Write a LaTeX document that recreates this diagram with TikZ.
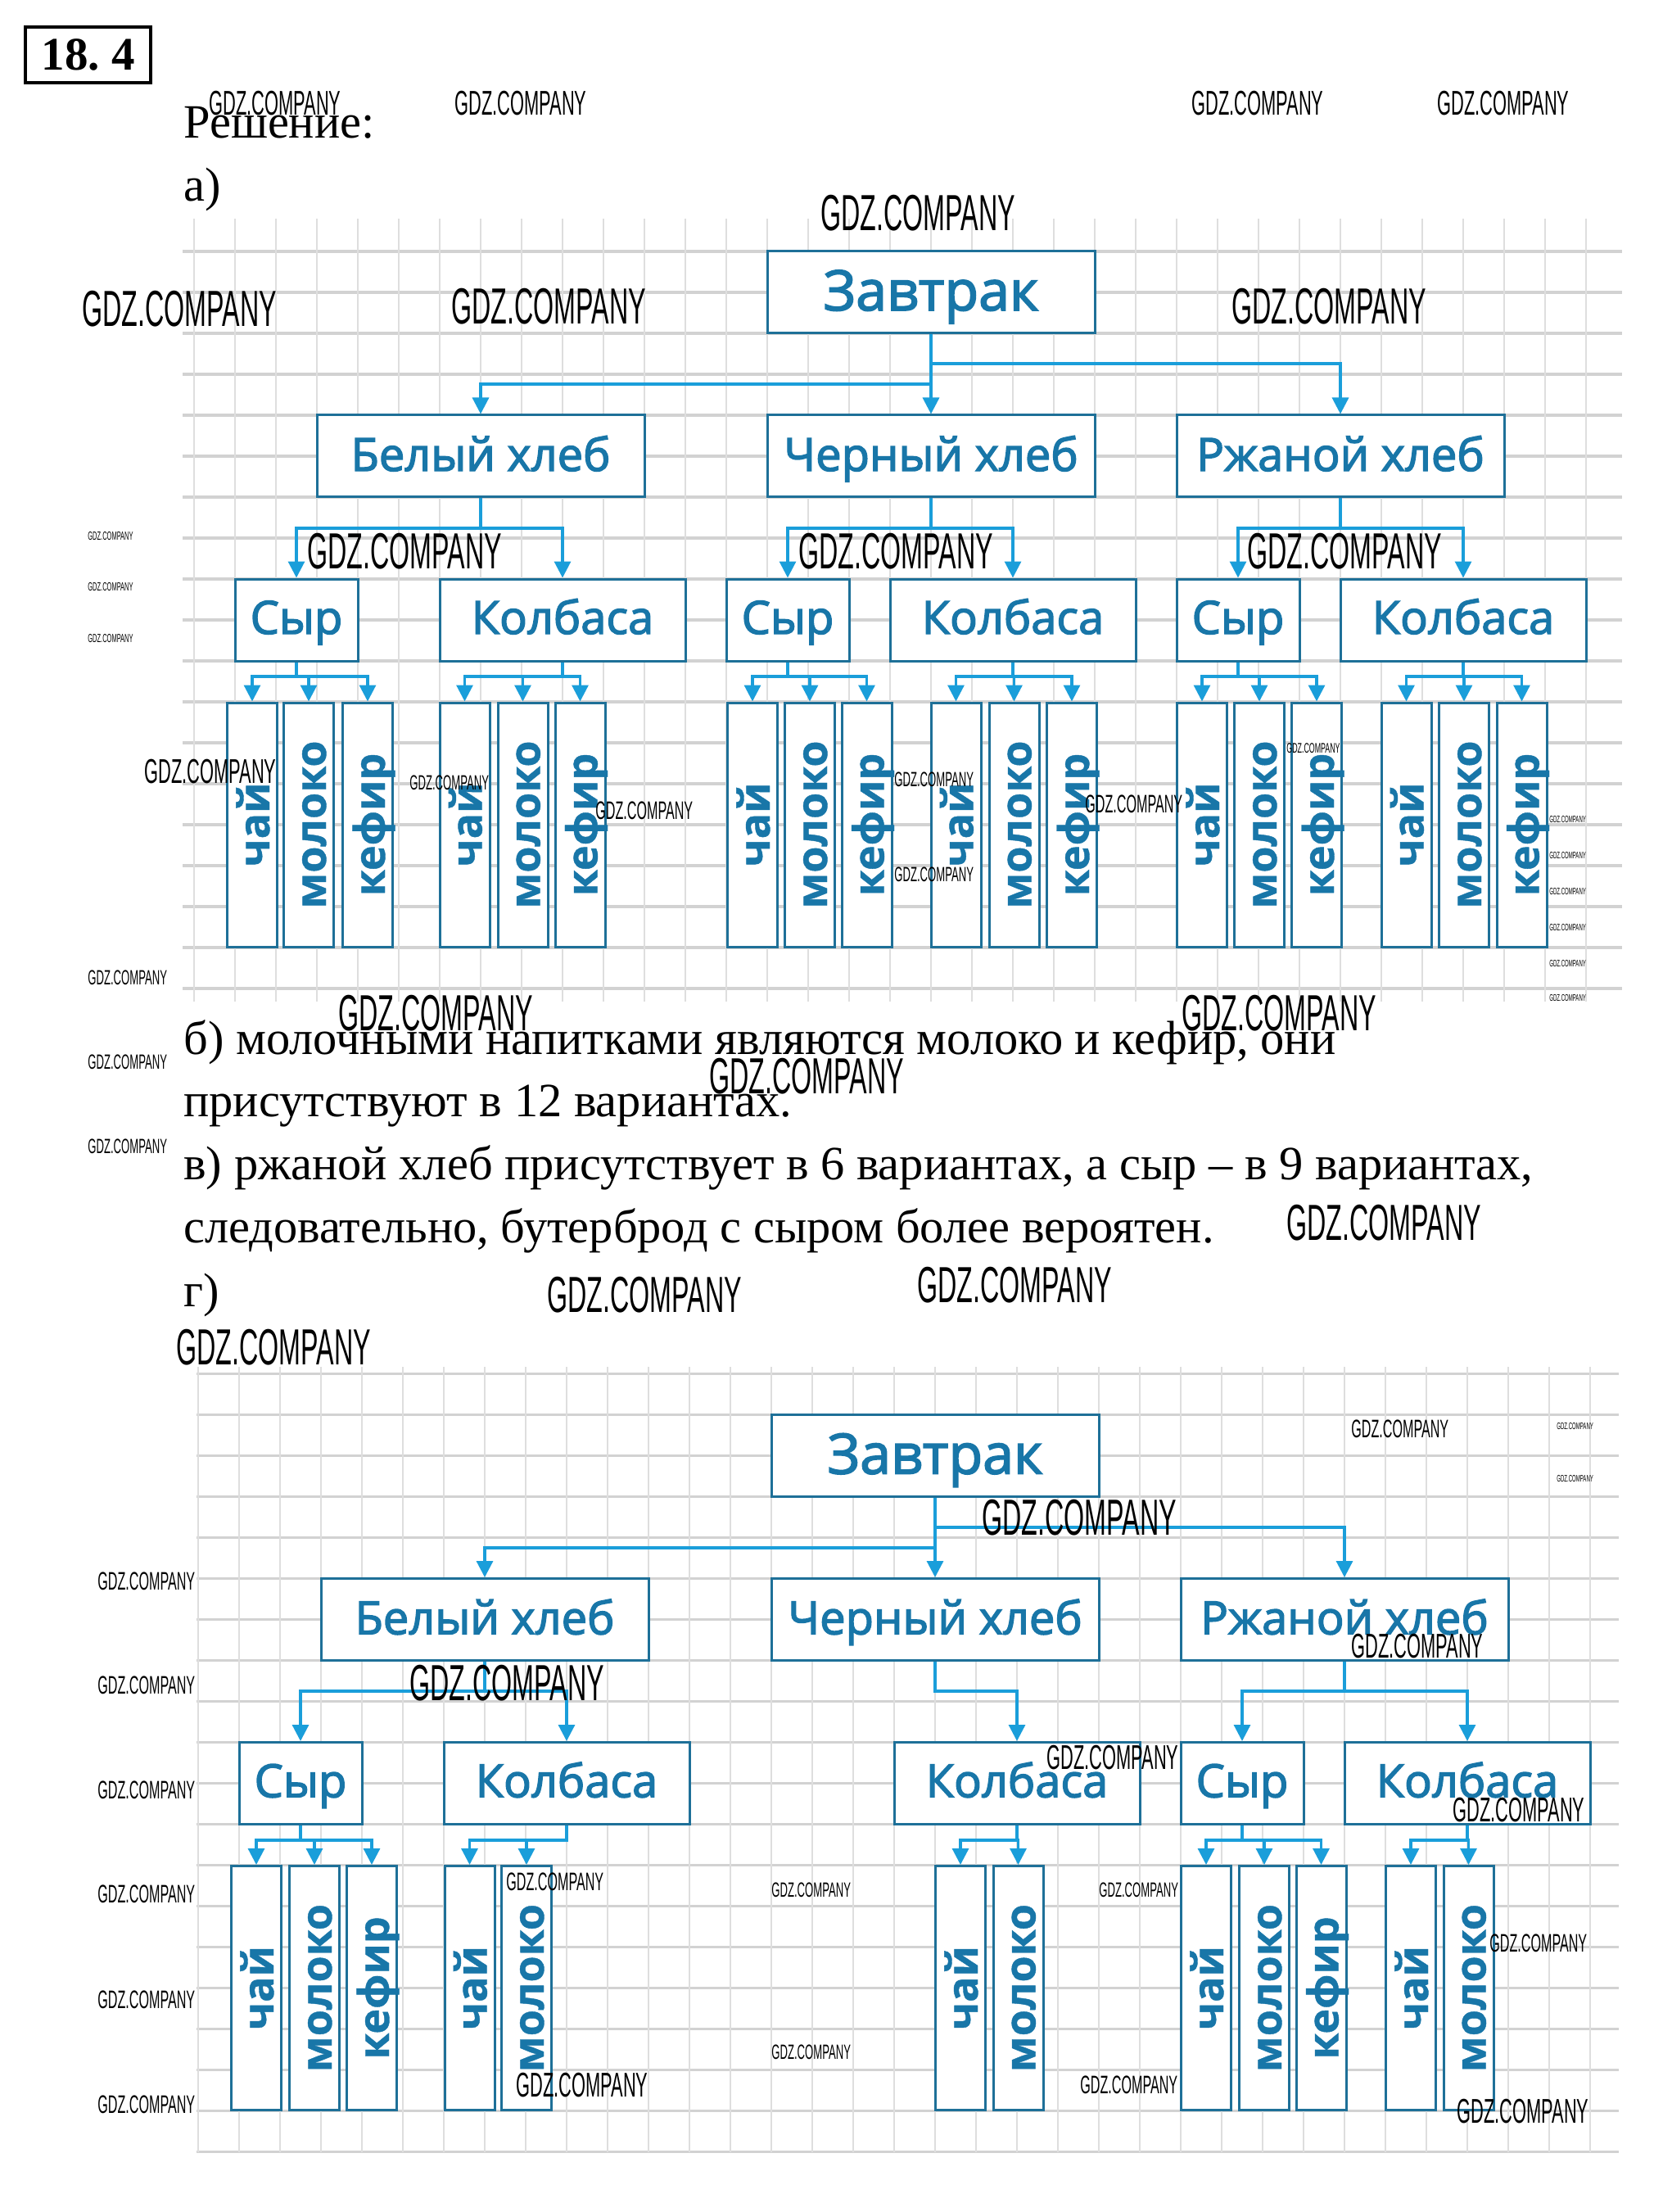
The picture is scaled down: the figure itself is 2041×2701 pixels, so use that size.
\documentclass[tikz,border=0pt]{standalone}
\usepackage{fontspec}
\setmainfont{Liberation Serif}
\newfontfamily\diag[FakeBold=2.5]{Open Sans}
\newfontfamily\diagbf{Open Sans Bold}[FakeBold=0.8]
\newfontfamily\wmf[FakeStretch=0.52]{Liberation Sans}
\usetikzlibrary{arrows.meta}
\definecolor{boxc}{RGB}{30,112,152}
\definecolor{txtc}{RGB}{24,118,168}
\definecolor{linec}{RGB}{26,158,218}
\definecolor{gridh}{RGB}{210,210,210}
\definecolor{gridv}{RGB}{222,222,222}
\tikzset{
 bbox/.style={draw=boxc, line width=1.5pt, fill=white, text=txtc, inner sep=0pt,
   text height=17pt, text depth=0pt, font=\diag\fontsize{28}{28}\selectfont},
 boxL/.style={bbox, minimum width=200pt, minimum height=50pt, text height=22pt,
   font=\diag\fontsize{34}{34}\selectfont},
 boxM/.style={bbox, minimum width=200pt, minimum height=50pt, text height=18pt},
 boxS/.style={bbox, minimum width=75pt, minimum height=50pt},
 boxW/.style={bbox, minimum width=150pt, minimum height=50pt},
 leaf/.style={bbox, rotate=90, minimum width=149pt, minimum height=30.5pt,
   text height=21pt, text depth=0pt, font=\diagbf\fontsize{26}{26}\selectfont},
 conn/.style={draw=linec, line width=1.6pt},
 arr/.style={conn, -{Triangle[width=10pt,length=10pt]}},
 body/.style={anchor=base west, inner sep=0pt, font=\fontsize{29.2}{34}\selectfont},
 wm/.style={anchor=west, inner sep=0pt, text=black, font=\wmf\fontsize{#1}{#1}\selectfont},
 gridH/.style={draw=gridh, line width=1.8pt},
 gridV/.style={draw=gridv, line width=1.3pt},
}
\newcommand\tolf[3]{\draw[arr] (#1.south) |- (#2.east |- #3) -- (#2.east);}
\newcommand\tobx[3]{\draw[arr] (#1.south) |- (#2.north |- #3) -- (#2.north);}
\begin{document}
\begin{tikzpicture}[x=0.5pt,y=-0.5pt]
\useasboundingbox (0,0) rectangle (2041,2701);
\fill[white] (0,0) rectangle (2041,2701);
% grids
\foreach \k in {0,...,18} \draw[gridH] (223,{307+50*\k}) -- (1981,{307+50*\k});
\foreach \k in {0,...,34} \draw[gridV] ({237+50*\k},267) -- ({237+50*\k},1223);
\foreach \k in {0,...,19} \draw[gridH] (240,{1677.5+50*\k}) -- (1977,{1677.5+50*\k});
\foreach \k in {0,...,34} \draw[gridV] ({242+50*\k},1669) -- ({242+50*\k},2628);
% title and text
\node[draw, line width=2pt, minimum width=76.5pt, minimum height=34pt, inner sep=0pt,
  font=\bfseries\fontsize{28.5}{30}\selectfont] (num) at (107.5,67) {18.\hspace{0.25em}4};
\node[body] (resh) at (224,169) {Решение:};
\node[body] (pa) at (224,246) {а)};
\node[body] (pb1) at (224,1287) {б) молочными напитками являются молоко и кефир, они};
\node[body] (pb2) at (224,1363) {присутствуют в 12 вариантах.};
\node[body] (pv1) at (224,1440) {в) ржаной хлеб присутствует в 6 вариантах, а сыр – в 9 вариантах,};
\node[body] (pv2) at (224,1517) {следовательно, бутерброд с сыром более вероятен.};
\node[body] (pg) at (224,1595) {г)};
% ---------- part a ----------
\node[boxL] (zavA) at (1137,357) {Завтрак};
\node[boxM] (belA) at (587,557) {Белый хлеб};
\node[boxM] (cherA) at (1137,557) {Черный хлеб};
\node[boxM] (rzhA) at (1637,557) {Ржаной хлеб};
\node[boxS] (syrA1) at (362,757) {Сыр};
\node[boxW] (kolA1) at (687,757) {Колбаса};
\node[boxS] (syrA2) at (962,757) {Сыр};
\node[boxW] (kolA2) at (1237,757) {Колбаса};
\node[boxS] (syrA3) at (1512,757) {Сыр};
\node[boxW] (kolA3) at (1787,757) {Колбаса};
\node[leaf] (lA1a) at (308,1007) {чай};
\node[leaf] (lA1b) at (377,1007) {молоко};
\node[leaf] (lA1c) at (449,1007) {кефир};
\node[leaf] (lA2a) at (567.5,1007) {чай};
\node[leaf] (lA2b) at (638.5,1007) {молоко};
\node[leaf] (lA2c) at (708.5,1007) {кефир};
\node[leaf] (lA3a) at (919,1007) {чай};
\node[leaf] (lA3b) at (989,1007) {молоко};
\node[leaf] (lA3c) at (1058.5,1007) {кефир};
\node[leaf] (lA4a) at (1167.5,1007) {чай};
\node[leaf] (lA4b) at (1238.5,1007) {молоко};
\node[leaf] (lA4c) at (1309,1007) {кефир};
\node[leaf] (lA5a) at (1468,1007) {чай};
\node[leaf] (lA5b) at (1538,1007) {молоко};
\node[leaf] (lA5c) at (1608,1007) {кефир};
\node[leaf] (lA6a) at (1717.5,1007) {чай};
\node[leaf] (lA6b) at (1788,1007) {молоко};
\node[leaf] (lA6c) at (1858.5,1007) {кефир};
\coordinate (rA1l) at (0,469);
\coordinate (rA1r) at (0,444);
\coordinate (rA2) at (0,645);
\coordinate (rA3) at (0,826);
\draw[arr] (zavA.south) -- (cherA.north);
\tobx{zavA}{belA}{rA1l}
\tobx{zavA}{rzhA}{rA1r}
\tobx{belA}{syrA1}{rA2}
\tobx{belA}{kolA1}{rA2}
\tobx{cherA}{syrA2}{rA2}
\tobx{cherA}{kolA2}{rA2}
\tobx{rzhA}{syrA3}{rA2}
\tobx{rzhA}{kolA3}{rA2}
\tolf{syrA1}{lA1a}{rA3}\tolf{syrA1}{lA1b}{rA3}\tolf{syrA1}{lA1c}{rA3}
\tolf{kolA1}{lA2a}{rA3}\tolf{kolA1}{lA2b}{rA3}\tolf{kolA1}{lA2c}{rA3}
\tolf{syrA2}{lA3a}{rA3}\tolf{syrA2}{lA3b}{rA3}\tolf{syrA2}{lA3c}{rA3}
\tolf{kolA2}{lA4a}{rA3}\tolf{kolA2}{lA4b}{rA3}\tolf{kolA2}{lA4c}{rA3}
\tolf{syrA3}{lA5a}{rA3}\tolf{syrA3}{lA5b}{rA3}\tolf{syrA3}{lA5c}{rA3}
\tolf{kolA3}{lA6a}{rA3}\tolf{kolA3}{lA6b}{rA3}\tolf{kolA3}{lA6c}{rA3}
% ---------- part g ----------
\node[boxL] (zavG) at (1142,1777.5) {Завтрак};
\node[boxM] (belG) at (592,1977.5) {Белый хлеб};
\node[boxM] (cherG) at (1142,1977.5) {Черный хлеб};
\node[boxM] (rzhG) at (1642,1977.5) {Ржаной хлеб};
\node[boxS] (syrG1) at (367,2177.5) {Сыр};
\node[boxW] (kolG1) at (692,2177.5) {Колбаса};
\node[boxW] (kolG2) at (1242,2177.5) {Колбаса};
\node[boxS] (syrG3) at (1517,2177.5) {Сыр};
\node[boxW] (kolG3) at (1792,2177.5) {Колбаса};
\node[leaf] (lG1a) at (313,2427.5) {чай};
\node[leaf] (lG1b) at (384,2427.5) {молоко};
\node[leaf] (lG1c) at (454,2427.5) {кефир};
\node[leaf] (lG2a) at (573.5,2427.5) {чай};
\node[leaf] (lG2b) at (643,2427.5) {молоко};
\node[leaf] (lG4a) at (1173,2427.5) {чай};
\node[leaf] (lG4b) at (1243.5,2427.5) {молоко};
\node[leaf] (lG5a) at (1473,2427.5) {чай};
\node[leaf] (lG5b) at (1544,2427.5) {молоко};
\node[leaf] (lG5c) at (1613.5,2427.5) {кефир};
\node[leaf] (lG6a) at (1723,2427.5) {чай};
\node[leaf] (lG6b) at (1793.5,2427.5) {молоко};
\coordinate (rG1l) at (0,1890);
\coordinate (rG1r) at (0,1865);
\coordinate (rG2) at (0,2065);
\coordinate (rG3) at (0,2247);
\draw[arr] (zavG.south) -- (cherG.north);
\tobx{zavG}{belG}{rG1l}
\tobx{zavG}{rzhG}{rG1r}
\tobx{belG}{syrG1}{rG2}
\tobx{belG}{kolG1}{rG2}
\tobx{cherG}{kolG2}{rG2}
\tobx{rzhG}{syrG3}{rG2}
\tobx{rzhG}{kolG3}{rG2}
\tolf{syrG1}{lG1a}{rG3}\tolf{syrG1}{lG1b}{rG3}\tolf{syrG1}{lG1c}{rG3}
\tolf{kolG1}{lG2a}{rG3}\tolf{kolG1}{lG2b}{rG3}
\tolf{kolG2}{lG4a}{rG3}\tolf{kolG2}{lG4b}{rG3}
\tolf{syrG3}{lG5a}{rG3}\tolf{syrG3}{lG5b}{rG3}\tolf{syrG3}{lG5c}{rG3}
\tolf{kolG3}{lG6a}{rG3}\tolf{kolG3}{lG6b}{rG3}
% ---------- watermarks ----------
\foreach \x/\y/\s [count=\i] in {
 1002/260/31, 100/377/31, 551/374/31, 1504/374/31, 375/673/31, 975/673/31, 1523/673/31,
 413/1237/31, 1443/1237/31, 866/1314/31, 1571/1493/31, 668/1581/31, 1120/1569/31,
 215/1645/31, 1199/1853/31, 500/2055/31,
 255/126/21, 555/126/21, 1455/126/21, 1755/126/21, 176/942/21, 1650/2010/21,
 1278/2146/21, 1774/2210/21, 630/2546/21, 1779/2578/21,
 727/990/15.5, 1325/982/15.5, 618/2298/15.5, 1819/2373/15.5, 1650/1745/15.5,
 119/1931/15.5, 119/2058/15.5, 119/2186/15.5, 119/2313/15.5, 119/2442/15.5, 119/2570/15.5,
 1319/2546/15.5,
 500/956/12.6, 1092/952/12.6, 1092/1068/12.6, 107/1194/12.6, 107/1297/12.6, 107/1400/12.6,
 942/2308/12.6, 942/2506/12.6, 1342/2308/12.6,
 107/655/7.2, 107/717/7.2, 107/780/7.2, 1571/914/8.5,
 1892/1000/5.8, 1892/1044/5.8, 1892/1088/5.8, 1892/1132/5.8, 1892/1176/5.8, 1892/1218/5.8,
 1901/1741/5.8, 1901/1805/5.8}
 \node[wm=\s] (wm\i) at (\x,\y) {GDZ.COMPANY};
\end{tikzpicture}
\end{document}
